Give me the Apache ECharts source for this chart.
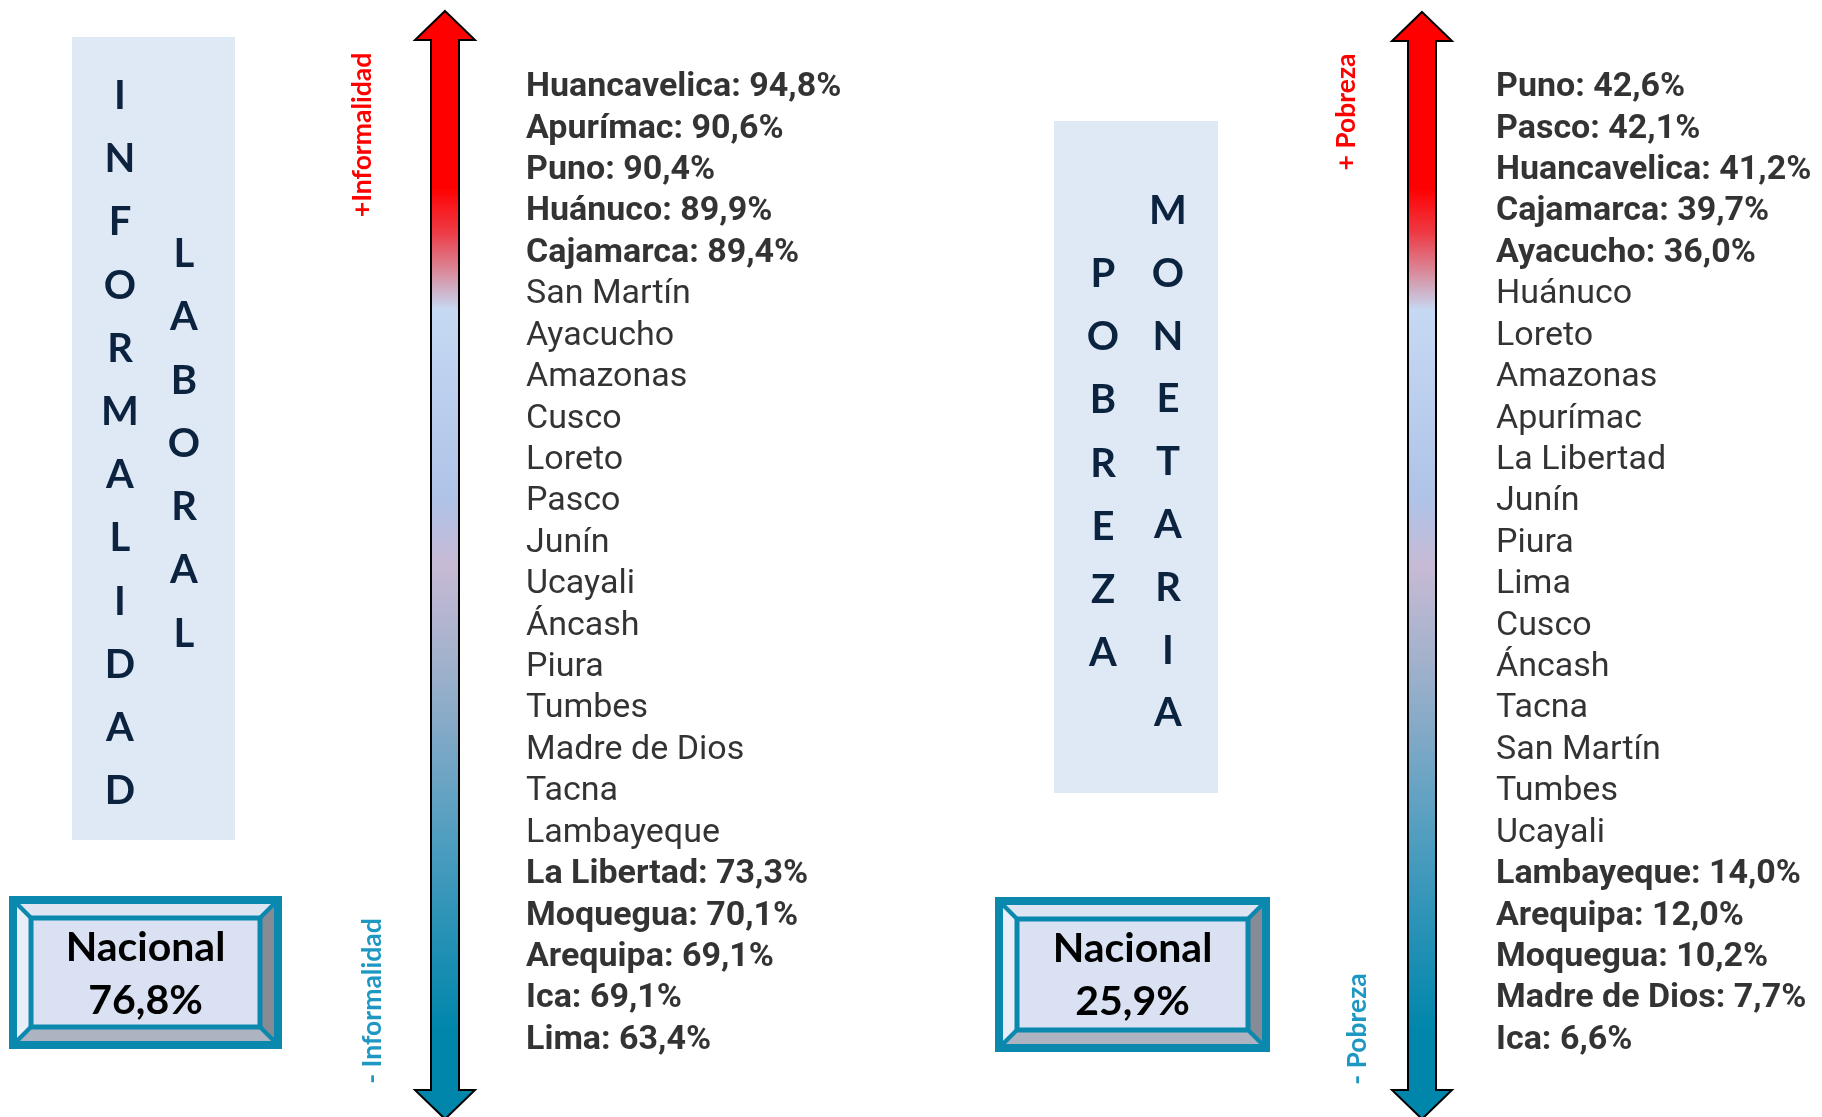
<!DOCTYPE html>
<html>
<head>
<meta charset="utf-8">
<script src="https://cdn.jsdelivr.net/npm/echarts@6/dist/echarts.min.js"></script>
<style>
  html, body { margin: 0; padding: 0; background: #fff; }
  #chart { width: 1822px; height: 1117px; }
</style>
</head>
<body>
<div id="chart"></div>
<script>
// ranking de informalidad laboral (mayor a menor)
const informalidadRegions = ['Huancavelica', 'Apurímac', 'Puno', 'Huánuco', 'Cajamarca', 'San Martín', 'Ayacucho',
  'Amazonas', 'Cusco', 'Loreto', 'Pasco', 'Junín', 'Ucayali', 'Áncash', 'Piura', 'Tumbes', 'Madre de Dios', 'Tacna',
  'Lambayeque', 'La Libertad', 'Moquegua', 'Arequipa', 'Ica', 'Lima']
const informalidadValues = [94.8, 90.6, 90.4, 89.9, 89.4, null, null, null, null, null, null, null, null, null, null,
  null, null, null, null, 73.3, 70.1, 69.1, 69.1, 63.4]
const informalidadNacional = 76.8

// ranking de pobreza monetaria (mayor a menor)
const pobrezaRegions = ['Puno', 'Pasco', 'Huancavelica', 'Cajamarca', 'Ayacucho', 'Huánuco', 'Loreto', 'Amazonas',
  'Apurímac', 'La Libertad', 'Junín', 'Piura', 'Lima', 'Cusco', 'Áncash', 'Tacna', 'San Martín', 'Tumbes', 'Ucayali',
  'Lambayeque', 'Arequipa', 'Moquegua', 'Madre de Dios', 'Ica']
const pobrezaValues = [42.6, 42.1, 41.2, 39.7, 36.0, null, null, null, null, null, null, null, null, null, null,
  null, null, null, null, 14.0, 12.0, 10.2, 7.7, 6.6]
const pobrezaNacional = 25.9

const NAVY = '#0C2340'
const TEAL = '#0A88AE'
const TEAL_TEXT = '#1E98C2'

const fmt = (v) => v.toFixed(1).replace('.', ',') + '%'

// letras apiladas verticalmente dentro de la caja celeste
function verticalWord(word, x, y0, step) {
  return word.split('').map((ch, i) => ({
    type: 'text',
    x,
    y: y0 + i * step,
    style: {
      text: ch, fill: NAVY, font: 'bold 40px Lato',
      align: 'center', verticalAlign: 'middle',
    },
  }))
}

function arrow(cx, top, bottom) {
  const hw = 30, sw = 14, hh = 29
  return {
    type: 'polygon',
    shape: {
      points: [
        [cx, top], [cx + hw, top + hh], [cx + sw, top + hh], [cx + sw, bottom - hh], [cx + hw, bottom - hh],
        [cx, bottom], [cx - hw, bottom - hh], [cx - sw, bottom - hh], [cx - sw, top + hh], [cx - hw, top + hh],
      ],
    },
    style: {
      fill: new echarts.graphic.LinearGradient(0, 0, 0, 1, [
        { offset: 0, color: '#FF0000' },
        { offset: 0.16, color: '#FF0000' },
        { offset: 0.2, color: '#EE3A45' },
        { offset: 0.235, color: '#D9899A' },
        { offset: 0.27, color: '#C6D9F3' },
        { offset: 0.44, color: '#AFC3E8' },
        { offset: 0.5, color: '#C7BAD5' },
        { offset: 0.58, color: '#A5B2CC' },
        { offset: 0.66, color: '#7DA8C6' },
        { offset: 0.75, color: '#4E9DBF' },
        { offset: 0.85, color: '#1E8FB3' },
        { offset: 0.92, color: '#0086AB' },
        { offset: 1, color: '#0086AB' },
      ]),
      stroke: '#000', lineWidth: 2,
    },
  }
}

function sideLabel(text, x, y, color) {
  return {
    type: 'text', x, y, rotation: Math.PI / 2,
    style: { text, fill: color, font: 'bold 26.5px Lato', align: 'center', verticalAlign: 'middle' },
  }
}

// caja biselada "Nacional"
function nacionalBox(x, y, w, h, value) {
  const o = 6, i = 22
  const p = (a, b) => [a, b]
  const outerTL = p(x + o, y + o), outerTR = p(x + w - o, y + o)
  const outerBL = p(x + o, y + h - o), outerBR = p(x + w - o, y + h - o)
  const inTL = p(x + i, y + i), inTR = p(x + w - i, y + i)
  const inBL = p(x + i, y + h - i), inBR = p(x + w - i, y + h - i)
  const face = (pts, fill) => ({
    type: 'polygon', shape: { points: pts },
    style: { fill, stroke: TEAL, lineWidth: 4, lineJoin: 'miter' },
  })
  return [
    face([outerTL, outerTR, inTR, inTL], '#DDE5F3'),
    face([outerTL, inTL, inBL, outerBL], '#E9EEF8'),
    face([outerTR, outerBR, inBR, inTR], '#868B96'),
    face([outerBL, inBL, inBR, outerBR], '#ADB3C1'),
    {
      type: 'rect', shape: { x: x + i, y: y + i, width: w - 2 * i, height: h - 2 * i },
      style: { fill: '#D9E1F2', stroke: TEAL, lineWidth: 5 },
    },
    {
      type: 'rect', shape: { x: x + 3, y: y + 3, width: w - 6, height: h - 6 },
      style: { fill: 'none', stroke: TEAL, lineWidth: 6 },
    },
    {
      type: 'text', x: x + w / 2, y: y + 52,
      style: { text: 'Nacional', fill: '#000', font: 'bold 41px Lato', align: 'center', verticalAlign: 'middle' },
    },
    {
      type: 'text', x: x + w / 2, y: y + 105,
      style: { text: fmt(value), fill: '#000', font: 'bold 41px Lato', align: 'center', verticalAlign: 'middle' },
    },
  ]
}

const graphic = [
  { type: 'rect', shape: { x: 72, y: 37, width: 163, height: 803 }, style: { fill: '#DEE9F5' } },
  ...verticalWord('INFORMALIDAD', 120, 96, 63.2),
  ...verticalWord('LABORAL', 184, 254, 63.3),
  { type: 'rect', shape: { x: 1054, y: 121, width: 164, height: 672 }, style: { fill: '#DEE9F5' } },
  ...verticalWord('POBREZA', 1103, 274, 63.2),
  ...verticalWord('MONETARIA', 1168, 211, 62.8),
  arrow(445, 11, 1119),
  arrow(1422, 12, 1119),
  sideLabel('+Informalidad', 362, 135, '#FF0000'),
  sideLabel('- Informalidad', 372, 1001, TEAL_TEXT),
  sideLabel('+ Pobreza', 1346, 112, '#FF0000'),
  sideLabel('- Pobreza', 1357, 1029, TEAL_TEXT),
  ...nacionalBox(9, 896, 273, 153, informalidadNacional),
  ...nacionalBox(995, 897, 275, 155, pobrezaNacional),
]

const rich = {
  b: { fontFamily: 'Roboto', fontWeight: 'bold', fontSize: 34, color: '#000' },
  n: { fontFamily: 'Roboto', fontWeight: 'normal', fontSize: 34, color: '#000' },
}

function rankingSeries(regions, values, idx) {
  return {
    type: 'scatter',
    xAxisIndex: idx,
    yAxisIndex: idx,
    symbolSize: 0,
    silent: true,
    data: regions.map((r, i) => [0, r, values[i]]),
    label: {
      show: true,
      position: 'right',
      distance: 0,
      formatter: (p) => {
        const v = p.value[2]
        return v == null ? `{n|${p.value[1]}}` : `{b|${p.value[1]}: ${fmt(v)}}`
      },
      rich,
    },
  }
}

const chart = echarts.init(document.getElementById('chart'))
chart.setOption({
  animation: false,
  backgroundColor: '#fff',
  grid: [
    { left: 526, top: 67, width: 300, height: 994 },
    { left: 1496, top: 67, width: 300, height: 994 },
  ],
  xAxis: [
    { gridIndex: 0, type: 'value', min: 0, max: 1, show: false },
    { gridIndex: 1, type: 'value', min: 0, max: 1, show: false },
  ],
  yAxis: [
    { gridIndex: 0, type: 'category', data: informalidadRegions, inverse: true, show: false },
    { gridIndex: 1, type: 'category', data: pobrezaRegions, inverse: true, show: false },
  ],
  series: [
    rankingSeries(informalidadRegions, informalidadValues, 0),
    rankingSeries(pobrezaRegions, pobrezaValues, 1),
  ],
  graphic,
})
</script>
</body>
</html>
